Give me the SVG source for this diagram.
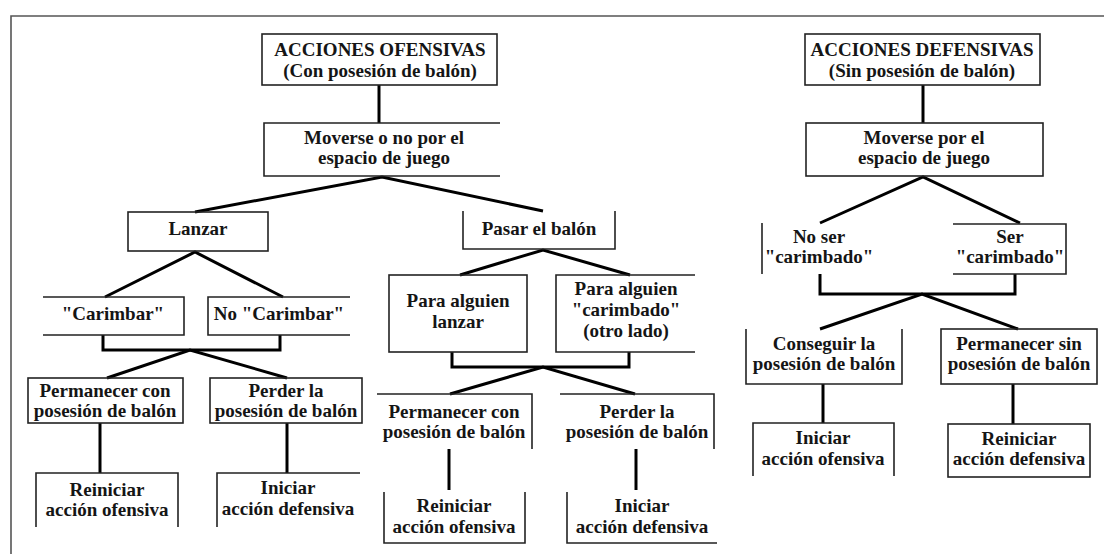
<svg xmlns="http://www.w3.org/2000/svg" width="1104" height="554" viewBox="0 0 1104 554">
<style>
.bg{fill:#ffffff}
.frame{fill:none;stroke:#555;stroke-width:1.6}
.box{fill:none;stroke:#222;stroke-width:1.6}
.con{fill:none;stroke:#000;stroke-width:3;stroke-linejoin:miter}
.t{font-family:"Liberation Serif","Times New Roman",serif;font-weight:700;font-size:19px;fill:#151515;text-anchor:middle}
</style>
<rect class="bg" x="0" y="0" width="1104" height="554"/>
<path class="frame" d="M11,554 V16 H1104"/>

<g id="connectors">
<path class="con" d="M379,85 V123"/>
<path class="con" d="M923,85 V123"/>
<path class="con" d="M195,212 L382,177 L543,211"/>
<path class="con" d="M105,297 L195,252 L283,297"/>
<path class="con" d="M103,335 V350 H280 V335"/>
<path class="con" d="M107,378 L190,350 L287,378"/>
<path class="con" d="M460,275 L543,250 L630,275"/>
<path class="con" d="M452,352 V367 H629 V352"/>
<path class="con" d="M450,394 L543,367 L635,394"/>
<path class="con" d="M100,423 V473"/>
<path class="con" d="M287,423 V473"/>
<path class="con" d="M449,449 V490"/>
<path class="con" d="M636,449 V490"/>
<path class="con" d="M820,223 L923,177 L1020,223"/>
<path class="con" d="M820,274 V294 H1015 V274"/>
<path class="con" d="M820,329 L922,294 L1018,329"/>
<path class="con" d="M823,384 V423"/>
<path class="con" d="M1013,384 V424"/>
</g>

<g id="n-ofensivas">
<rect class="box" x="262" y="34" width="235" height="51"/>
<text class="t" x="380" y="56">ACCIONES OFENSIVAS</text>
<text class="t" x="380" y="77">(Con posesión de balón)</text>
</g>
<g id="n-moverse-of">
<path class="box" d="M500,123 H264 V176 H500"/>
<text class="t" x="384" y="144">Moverse o no por el</text>
<text class="t" x="384" y="164">espacio de juego</text>
</g>
<g id="n-defensivas">
<rect class="box" x="805" y="34" width="235" height="51"/>
<text class="t" x="922" y="56">ACCIONES DEFENSIVAS</text>
<text class="t" x="922" y="77">(Sin posesión de balón)</text>
</g>
<g id="n-moverse-def">
<rect class="box" x="806" y="123" width="237" height="53"/>
<text class="t" x="924" y="144">Moverse por el</text>
<text class="t" x="924" y="164">espacio de juego</text>
</g>
<g id="n-lanzar">
<rect class="box" x="128" y="212" width="140" height="39"/>
<text class="t" x="198" y="235">Lanzar</text>
</g>
<g id="n-pasar">
<path class="box" d="M463,211 V249 H615 V211"/>
<text class="t" x="539" y="235">Pasar el balón</text>
</g>
<g id="n-carimbar">
<path class="box" d="M43,297 H184 V335 H43"/>
<text class="t" x="113" y="320">"Carimbar"</text>
</g>
<g id="n-no-carimbar">
<path class="box" d="M350,297 H208 V335 H350"/>
<text class="t" x="279" y="320">No "Carimbar"</text>
</g>
<g id="n-para-lanzar">
<rect class="box" x="389" y="275" width="138" height="77"/>
<text class="t" x="458" y="307">Para alguien</text>
<text class="t" x="458" y="328">lanzar</text>
</g>
<g id="n-para-carimbado">
<path class="box" d="M695,275 H556 V352 H695"/>
<text class="t" x="626" y="295">Para alguien</text>
<text class="t" x="626" y="316">"carimbado"</text>
<text class="t" x="626" y="337">(otro lado)</text>
</g>
<g id="n-permanecer-1">
<rect class="box" x="28" y="378" width="155" height="45"/>
<text class="t" x="105" y="397">Permanecer con</text>
<text class="t" x="105" y="417">posesión de balón</text>
</g>
<g id="n-perder-1">
<rect class="box" x="210" y="378" width="152" height="45"/>
<text class="t" x="286" y="397">Perder la</text>
<text class="t" x="286" y="417">posesión de balón</text>
</g>
<g id="n-reiniciar-1">
<path class="box" d="M36,527 V473 H178 V527"/>
<text class="t" x="107" y="496">Reiniciar</text>
<text class="t" x="107" y="516">acción ofensiva</text>
</g>
<g id="n-iniciar-1">
<path class="box" d="M217,527 V473 H360"/>
<text class="t" x="288" y="494">Iniciar</text>
<text class="t" x="288" y="515">acción defensiva</text>
</g>
<g id="n-permanecer-2">
<path class="box" d="M377,394 H532 V449"/>
<text class="t" x="454" y="418">Permanecer con</text>
<text class="t" x="454" y="438">posesión de balón</text>
</g>
<g id="n-perder-2">
<path class="box" d="M560,394 H714 V449"/>
<text class="t" x="637" y="418">Perder la</text>
<text class="t" x="637" y="438">posesión de balón</text>
</g>
<g id="n-reiniciar-2">
<path class="box" d="M384,492 V543 H525 V492"/>
<text class="t" x="454" y="512">Reiniciar</text>
<text class="t" x="454" y="533">acción ofensiva</text>
</g>
<g id="n-iniciar-2">
<path class="box" d="M567,492 V543 H717"/>
<text class="t" x="642" y="512">Iniciar</text>
<text class="t" x="642" y="533">acción defensiva</text>
</g>
<g id="n-no-ser">
<path class="box" d="M762,223 V274"/>
<text class="t" x="819" y="243">No ser</text>
<text class="t" x="819" y="263">"carimbado"</text>
</g>
<g id="n-ser">
<path class="box" d="M953,224 H1066 V274 H953"/>
<text class="t" x="1010" y="243">Ser</text>
<text class="t" x="1010" y="263">"carimbado"</text>
</g>
<g id="n-conseguir">
<path class="box" d="M746,329 V384 H902 V329"/>
<text class="t" x="824" y="350">Conseguir la</text>
<text class="t" x="824" y="370">posesión de balón</text>
</g>
<g id="n-permanecer-sin">
<rect class="box" x="941" y="329" width="156" height="55"/>
<text class="t" x="1019" y="350">Permanecer sin</text>
<text class="t" x="1019" y="370">posesión de balón</text>
</g>
<g id="n-iniciar-of">
<path class="box" d="M753,476 V423 H894 V476"/>
<text class="t" x="823" y="444">Iniciar</text>
<text class="t" x="823" y="465">acción ofensiva</text>
</g>
<g id="n-reiniciar-def">
<rect class="box" x="948" y="424" width="142" height="53"/>
<text class="t" x="1019" y="445">Reiniciar</text>
<text class="t" x="1019" y="465">acción defensiva</text>
</g>
</svg>
